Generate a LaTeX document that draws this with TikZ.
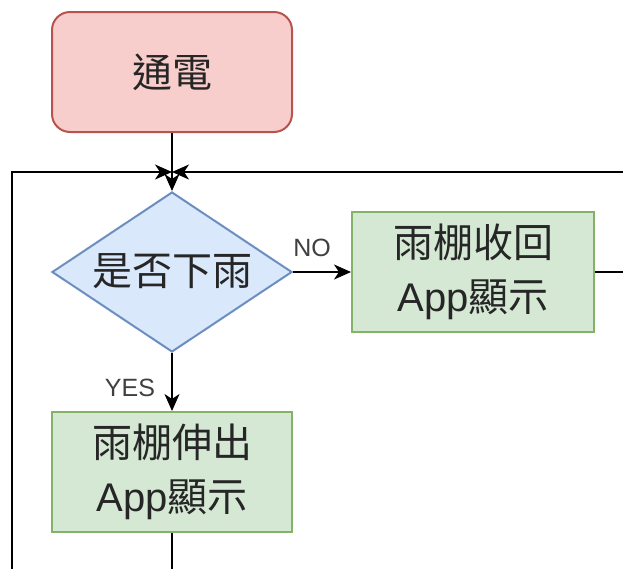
\documentclass[tikz,border=0pt]{standalone}
\usepackage{fontspec}
\setmainfont{Liberation Sans}
\newfontfamily\cjk{Noto Sans CJK TC}
\usetikzlibrary{shapes.geometric,arrows.meta}

\definecolor{pinkfill}{HTML}{F8CECC}
\definecolor{pinkline}{HTML}{B85450}
\definecolor{bluefill}{HTML}{DAE8FC}
\definecolor{blueline}{HTML}{6C8EBF}
\definecolor{greenfill}{HTML}{D5E8D4}
\definecolor{greenline}{HTML}{82B366}

\tikzset{
  boxbase/.style={draw, line width=2pt, minimum width=240pt, minimum height=120pt,
    inner sep=0pt, align=center, text=black!85, font=\fontsize{40}{54}\selectfont},
  startbox/.style={boxbase, rounded corners=18pt, fill=pinkfill, draw=pinkline},
  procbox/.style={boxbase, fill=greenfill, draw=greenline},
  decision/.style={diamond, draw=blueline, fill=bluefill, line width=2pt,
    minimum width=240pt, minimum height=160pt, inner sep=0pt},
  dectext/.style={text=black!85, font=\fontsize{40}{54}\selectfont},
  flow/.style={line width=2pt, -{Stealth[length=17pt,width=15pt,inset=5pt]}},
  edgelabel/.style={font=\fontsize{25}{25}\selectfont, text=black!75, inner sep=0pt},
}

\begin{document}
\begin{tikzpicture}[x=1pt,y=-1pt]
  \useasboundingbox (0,0) rectangle (623,568);
  \clip (0,0) rectangle (623,568);

  % nodes
  \node[startbox] (start) at (172,72) {\cjk 通電};
  \node[decision] (dec) at (172,272) {};
  \node[dectext] (dectxt) at (172,271) {\cjk 是否下雨};
  \node[procbox, minimum width=242pt] (retract) at (473,272) {{\cjk 雨棚收回}\\App{\cjk 顯示}};
  \node[procbox] (extend) at (172,472) {{\cjk 雨棚伸出}\\App{\cjk 顯示}};

  % edge labels
  \node[edgelabel] (nolbl) at (312,248) {NO};
  \node[edgelabel] (yeslbl) at (130,388) {YES};

  % loop-back route points
  \coordinate (join) at (172,172);
  \coordinate (lb) at (172,620);
  \coordinate (ll) at (12,620);
  \coordinate (lt) at (12,172);
  \coordinate (rr) at (660,272);
  \coordinate (rt) at (660,172);

  % connectors
  \draw[flow] (start.south) -- (dec.north);
  \draw[flow] (dec.east) -- (retract.west);
  \draw[flow] (dec.south) -- (extend.north);
  \draw[flow] (extend.south) -- (lb) -- (ll) -- (lt) -- (join);
  \draw[flow] (retract.east) -- (rr) -- (rt) -- (join);
\end{tikzpicture}
\end{document}
